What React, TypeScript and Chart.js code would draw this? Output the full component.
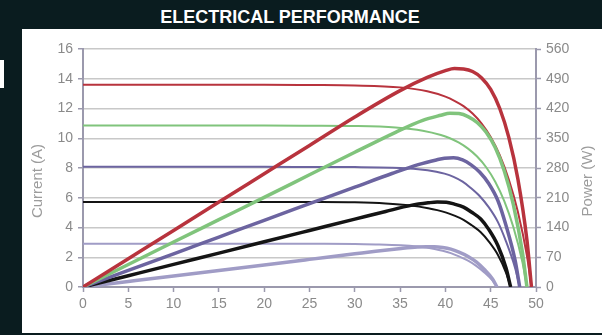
import React, { useEffect, useRef } from 'react';
import { Chart, registerables } from 'chart.js';
Chart.register(...registerables);

// ---- data ----
const voltRed = [0, 5, 10, 15, 20, 25, 30, 35, 38, 40, 41, 42, 43, 44, 45, 46, 47, 48, 49, 49.5];
const currentRed = [13.6, 13.6, 13.6, 13.6, 13.6, 13.58, 13.55, 13.42, 13.16, 12.8, 12.52, 12.16, 11.66, 10.99, 10.09, 8.87, 7.23, 5.06, 2.09, 0];
const powerRed = [0, 66.5, 133, 200, 266.5, 333, 400, 462, 493, 509, 514, 513, 507, 492, 465, 420, 352, 254, 110, 0];

const voltGreen = [0, 5, 10, 15, 20, 25, 30, 34.5, 37.5, 39.5, 40.5, 41.5, 42.5, 43.5, 44.5, 45.5, 46.5, 47.5, 48.5, 49];
const currentGreen = [10.85, 10.85, 10.85, 10.85, 10.85, 10.84, 10.82, 10.72, 10.51, 10.22, 10.0, 9.7, 9.3, 8.77, 8.05, 7.08, 5.78, 4.03, 1.67, 0];
const powerGreen = [0, 53, 106, 158.5, 211, 264, 317, 364, 392, 404, 409, 408, 401, 387, 364, 328, 273, 194, 82, 0];

const voltPurple = [0, 5, 10, 15, 20, 25, 30, 34.1, 37, 39, 39.9, 40.9, 41.9, 42.8, 43.8, 44.8, 45.8, 46.7, 47.7, 48.2];
const currentPurple = [8.08, 8.08, 8.08, 8.08, 8.08, 8.07, 8.06, 8.02, 7.92, 7.75, 7.62, 7.4, 7.08, 6.66, 6.1, 5.35, 4.36, 3.05, 1.27, 0];
const powerPurple = [0, 39, 78, 117.5, 157, 196, 235, 267, 288, 299, 303, 304, 299, 288, 270, 243, 203, 144, 62, 0];

const voltBlack = [0, 5, 10, 15, 20, 25, 30, 33.4, 36.2, 38.1, 39.1, 40.1, 41, 42, 42.9, 43.9, 44.8, 45.8, 46.7, 47.2];
const currentBlack = [5.72, 5.72, 5.72, 5.72, 5.72, 5.71, 5.69, 5.62, 5.48, 5.3, 5.17, 5.0, 4.8, 4.52, 4.15, 3.68, 3.05, 2.15, 0.95, 0];
const powerBlack = [0, 26.6, 53.2, 79.8, 106.4, 133, 159.6, 177.7, 192, 198, 200, 199.5, 195, 188, 176, 160, 135, 97, 44, 0];

const voltLight = [0, 5, 10, 15, 20, 25, 30, 32.3, 35.1, 36.9, 37.9, 38.8, 39.7, 40.6, 41.5, 42.5, 43.4, 44.3, 45.2, 45.7];
const currentLight = [2.9, 2.9, 2.9, 2.9, 2.9, 2.9, 2.89, 2.86, 2.8, 2.72, 2.65, 2.56, 2.44, 2.28, 2.06, 1.77, 1.42, 0.98, 0.44, 0];
const powerLight = [0, 13, 26, 39, 52, 65, 78, 84, 90.5, 94, 95, 95, 93, 89, 82, 72, 59, 41, 19, 0];

const titleText = 'ELECTRICAL PERFORMANCE';
const leftTitle = 'Current (A)';
const rightTitle = 'Power (W)';

const RED = '#b8333d';
const GREEN = '#80c47c';
const PURPLE = '#6c64a0';
const BLACK = '#141414';
const LIGHT = '#a09cc6';

const AXIS = '#9b99ad';
const GRID = '#c8c8c8';
const TICK_TEXT = '#8a8a8a';
const FONT = '"Liberation Sans", Arial, Helvetica, sans-serif';

const pts = (xs: number[], ys: number[]) => xs.map((x, i) => ({ x, y: ys[i] }));

const axisTitlePlugin = {
  id: 'axisTitles',
  afterDraw(chart: any) {
    const ctx = chart.ctx;
    const a = chart.chartArea;
    const cy = (a.top + a.bottom) / 2 + 13;
    ctx.save();
    ctx.fillStyle = '#9c9c9c';
    ctx.font = '15px ' + FONT;
    ctx.textAlign = 'center';
    ctx.textBaseline = 'middle';
    ctx.save();
    ctx.translate(16, cy);
    ctx.rotate(-Math.PI / 2);
    ctx.fillText(leftTitle, 0, 0);
    ctx.restore();
    ctx.save();
    ctx.translate(566, cy);
    ctx.rotate(-Math.PI / 2);
    ctx.fillText(rightTitle, 0, 0);
    ctx.restore();
    ctx.restore();
  },
};

export default function App() {
  const ref = useRef<HTMLCanvasElement>(null);
  useEffect(() => {
    document.body.style.margin = '0';
    const thin = (color: string, xs: number[], ys: number[]) => ({
      data: pts(xs, ys), borderColor: color, borderWidth: 2, yAxisID: 'y',
      pointRadius: 0, cubicInterpolationMode: 'monotone' as const, fill: false,
    });
    const thick = (color: string, xs: number[], ys: number[]) => ({
      data: pts(xs, ys), borderColor: color, borderWidth: 3.5, yAxisID: 'y2',
      pointRadius: 0, cubicInterpolationMode: 'monotone' as const, fill: false,
    });
    const tickFont = { family: FONT, size: 14 };
    const chart = new Chart(ref.current!, {
      type: 'line',
      data: {
        datasets: [
          thick(RED, voltRed, powerRed),
          thick(GREEN, voltGreen, powerGreen),
          thick(PURPLE, voltPurple, powerPurple),
          thick(BLACK, voltBlack, powerBlack),
          thick(LIGHT, voltLight, powerLight),
          thin(RED, voltRed, currentRed),
          thin(GREEN, voltGreen, currentGreen),
          thin(PURPLE, voltPurple, currentPurple),
          thin(BLACK, voltBlack, currentBlack),
          thin(LIGHT, voltLight, currentLight),
        ] as any,
      },
      options: {
        animation: false,
        responsive: false,
        layout: { padding: { top: 20, left: 0, right: 0, bottom: 0 } },
        plugins: { legend: { display: false }, tooltip: { enabled: false }, title: { display: false } },
        scales: {
          x: {
            type: 'linear', min: 0, max: 50,
            ticks: { stepSize: 5, color: TICK_TEXT, font: tickFont, padding: 4 },
            grid: { display: true, drawOnChartArea: false, drawTicks: true, tickLength: 5, tickColor: AXIS, tickWidth: 1.5 },
            border: { display: true, color: AXIS, width: 2 },
            afterFit(s: any) { s.height = 46; },
          },
          y: {
            position: 'left', min: 0, max: 16,
            ticks: { stepSize: 2, color: TICK_TEXT, font: tickFont, padding: 5 },
            grid: { color: GRID, lineWidth: 1.5, drawTicks: true, tickLength: 5, tickColor: AXIS, tickWidth: 1.5 },
            border: { display: true, color: AXIS, width: 2 },
            afterFit(s: any) { s.width = 61; },
          },
          y2: {
            position: 'right', min: 0, max: 560,
            ticks: { stepSize: 70, color: TICK_TEXT, font: tickFont, padding: 5 },
            grid: { drawOnChartArea: false, drawTicks: true, tickLength: 5, tickColor: AXIS, tickWidth: 1.5 },
            border: { display: true, color: AXIS, width: 2 },
            afterFit(s: any) { s.width = 66; },
          },
        } as any,
      },
      plugins: [axisTitlePlugin],
    });
    return () => chart.destroy();
  }, []);

  return (
    <div style={{ position: 'relative', width: 602, height: 335, background: '#0a1c1f', overflow: 'hidden' }}>
      <div style={{ position: 'absolute', left: 0, top: 60, width: 4, height: 28, background: '#ffffff' }} />
      <div
        style={{
          position: 'absolute', left: 290, top: 7, transform: 'translateX(-50%)', whiteSpace: 'nowrap',
          color: '#ffffff', fontFamily: FONT, fontWeight: 'bold', fontSize: 18, lineHeight: '20px',
        }}
      >
        {titleText}
      </div>
      <div style={{ position: 'absolute', left: 22, top: 29, width: 580, height: 304, background: '#ffffff' }}>
        <canvas ref={ref} width={580} height={304} style={{ display: 'block', width: 580, height: 304 }} />
      </div>
    </div>
  );
}
